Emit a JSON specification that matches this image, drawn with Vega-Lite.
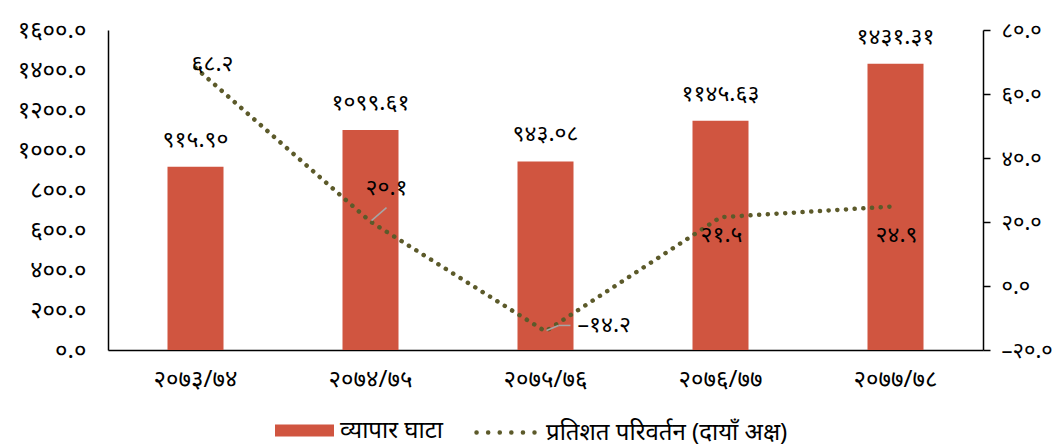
{
  "$schema": "https://vega.github.io/schema/vega-lite/v6.json",
  "width": 875,
  "height": 320,
  "autosize": {"type": "none"},
  "padding": {"left": 108, "top": 30, "right": 79, "bottom": 96},
  "background": "white",
  "config": {
    "view": {"stroke": null},
    "font": "Noto Sans",
    "axis": {"grid": false, "domainColor": "#000000", "domainWidth": 1.5, "labelColor": "#000000", "labelFont": "Noto Sans", "labelFontSize": 24, "title": null},
    "legend": {"labelFont": "Noto Sans", "labelFontSize": 24, "labelColor": "#000000", "padding": 0, "title": null, "labelLimit": 400}
  },
  "data": {
    "values": [
      {"year": "२०७३/७४", "deficit": 915.90, "deficit_label": "९१५.९०", "change": 68.2, "change_label": "६८.२"},
      {"year": "२०७४/७५", "deficit": 1099.61, "deficit_label": "१०९९.६१", "change": 20.1, "change_label": "२०.१"},
      {"year": "२०७५/७६", "deficit": 943.08, "deficit_label": "९४३.०८", "change": -14.2, "change_label": "–१४.२"},
      {"year": "२०७६/७७", "deficit": 1145.63, "deficit_label": "११४५.६३", "change": 21.5, "change_label": "२१.५"},
      {"year": "२०७७/७८", "deficit": 1431.31, "deficit_label": "१४३१.३१", "change": 24.9, "change_label": "२४.९"}
    ]
  },
  "encoding": {
    "x": {
      "field": "year", "type": "nominal", "sort": null,
      "scale": {"paddingInner": 0, "paddingOuter": 0},
      "axis": {"labelAngle": 0, "ticks": false, "labelPadding": 17, "domainColor": "#000000"}
    }
  },
  "layer": [
    {
      "encoding": {
        "y": {
          "field": "deficit", "type": "quantitative",
          "scale": {"domain": [0, 1600], "nice": false},
          "axis": {
            "orient": "left", "values": [0, 200, 400, 600, 800, 1000, 1200, 1400, 1600],
            "ticks": false, "labelPadding": 22,
            "labelExpr": "replace(replace(replace(replace(replace(replace(replace(replace(replace(replace(format(datum.value,'.1f'),regexp('0','g'),'०'),regexp('1','g'),'१'),regexp('2','g'),'२'),regexp('3','g'),'३'),regexp('4','g'),'४'),regexp('5','g'),'५'),regexp('6','g'),'६'),regexp('7','g'),'७'),regexp('8','g'),'८'),regexp('9','g'),'९')"
          }
        }
      },
      "layer": [
        {
          "mark": {"type": "bar", "width": 56},
          "encoding": {
            "fill": {
              "datum": "व्यापार घाटा", "type": "nominal",
              "scale": {"range": ["#D05540"]},
              "legend": {
                "orient": "none", "legendX": 167, "legendY": 371,
                "symbolType": "M-1,-0.2H1V0.2H-1Z", "symbolSize": 3481,
                "symbolStrokeWidth": 0, "labelOffset": 6
              }
            }
          }
        },
        {
          "mark": {"type": "text", "baseline": "middle", "dy": -27, "fontSize": 23, "color": "#000000"},
          "encoding": {"text": {"field": "deficit_label"}}
        }
      ]
    },
    {
      "encoding": {
        "y": {
          "field": "change", "type": "quantitative",
          "scale": {"domain": [-20, 80], "nice": false},
          "axis": {
            "orient": "right", "values": [-20, 0, 20, 40, 60, 80],
            "ticks": true, "tickSize": 7, "tickColor": "#000000", "tickWidth": 1.5, "labelPadding": 11, "labelFontSize": 22,
            "labelExpr": "replace(replace(replace(replace(replace(replace(replace(replace(replace(replace(replace(format(datum.value,'.1f'),regexp('−','g'),'–'),regexp('0','g'),'०'),regexp('1','g'),'१'),regexp('2','g'),'२'),regexp('3','g'),'३'),regexp('4','g'),'४'),regexp('5','g'),'५'),regexp('6','g'),'६'),regexp('7','g'),'७'),regexp('8','g'),'८'),regexp('9','g'),'९')"
          }
        }
      },
      "layer": [
        {
          "mark": {"type": "line", "strokeWidth": 4.5, "strokeDash": [0.1, 8.6], "strokeCap": "round"},
          "encoding": {
            "stroke": {
              "datum": "प्रतिशत परिवर्तन (दायाँ अक्ष)", "type": "nominal",
              "scale": {"range": ["#5C5A2A"]},
              "legend": {
                "orient": "none", "legendX": 366, "legendY": 371,
                "symbolType": "stroke", "symbolSize": 3364, "symbolStrokeWidth": 4.5,
                "symbolDash": [0.1, 11.5], "labelOffset": 9,
                "encode": {"symbols": {"update": {"strokeCap": {"value": "round"}}}}
              }
            }
          }
        },
        {
          "transform": [{"filter": "datum.change == 20.1"}],
          "mark": {"type": "rule", "color": "#A6A6A6", "strokeWidth": 1.5, "xOffset": 1, "yOffset": -1, "x2Offset": 16, "y2Offset": -14},
          "encoding": {"x2": {"field": "year"}, "y2": {"field": "change"}}
        },
        {
          "transform": [{"filter": "datum.change == -14.2"}],
          "mark": {"type": "rule", "color": "#A6A6A6", "strokeWidth": 1.5, "xOffset": 1, "yOffset": -1, "x2Offset": 13, "y2Offset": -6},
          "encoding": {"x2": {"field": "year"}, "y2": {"field": "change"}}
        },
        {
          "transform": [{"filter": "datum.change == -14.2"}],
          "mark": {"type": "rule", "color": "#A6A6A6", "strokeWidth": 1.5, "xOffset": 13, "yOffset": -6, "x2Offset": 25, "y2Offset": -6},
          "encoding": {"x2": {"field": "year"}, "y2": {"field": "change"}}
        },
        {
          "transform": [{"filter": "datum.change == 68.2"}],
          "mark": {"type": "text", "baseline": "middle", "align": "center", "dx": 17, "dy": -4, "fontSize": 23, "color": "#000000"},
          "encoding": {"text": {"field": "change_label"}}
        },
        {
          "transform": [{"filter": "datum.change == 20.1"}],
          "mark": {"type": "text", "baseline": "middle", "align": "center", "dx": 16, "dy": -34, "fontSize": 23, "color": "#000000"},
          "encoding": {"text": {"field": "change_label"}}
        },
        {
          "transform": [{"filter": "datum.change == -14.2"}],
          "mark": {"type": "text", "baseline": "middle", "align": "left", "dx": 32, "dy": -6, "fontSize": 23, "color": "#000000"},
          "encoding": {"text": {"field": "change_label"}}
        },
        {
          "transform": [{"filter": "datum.change == 21.5"}],
          "mark": {"type": "text", "baseline": "middle", "align": "center", "dx": 1, "dy": 18, "fontSize": 23, "color": "#000000"},
          "encoding": {"text": {"field": "change_label"}}
        },
        {
          "transform": [{"filter": "datum.change == 24.9"}],
          "mark": {"type": "text", "baseline": "middle", "align": "center", "dx": 1, "dy": 29, "fontSize": 23, "color": "#000000"},
          "encoding": {"text": {"field": "change_label"}}
        }
      ]
    }
  ],
  "resolve": {"scale": {"y": "independent", "fill": "independent", "stroke": "independent"}}
}
